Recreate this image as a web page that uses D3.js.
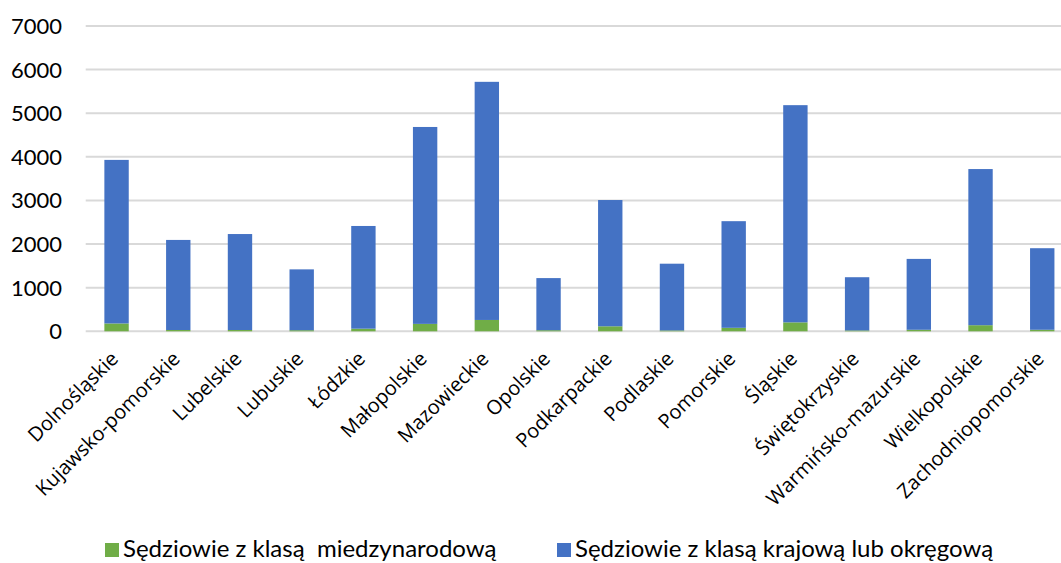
<!DOCTYPE html>
<html>
<head>
<meta charset="utf-8">
<script src="https://cdn.jsdelivr.net/npm/d3@7"></script>
<style>
  body { margin: 0; background: #fff; }
  text { fill: #000; }
</style>
</head>
<body>
<div id="chart"></div>
<script>
const categories = ["Dolnośląskie", "Kujawsko-pomorskie", "Lubelskie", "Lubuskie", "Łódzkie",
  "Małopolskie", "Mazowieckie", "Opolskie", "Podkarpackie", "Podlaskie", "Pomorskie",
  "Śląskie", "Świętokrzyskie", "Warmińsko-mazurskie", "Wielkopolskie", "Zachodniopomorskie"]

// sędziowie z klasą międzynarodową (green)
const international = [180, 30, 30, 25, 60, 170, 260, 25, 115, 20, 80, 205, 20, 35, 140, 35]
// sędziowie z klasą krajową lub okręgową (blue)
const national = [3750, 2065, 2200, 1395, 2355, 4515, 5460, 1195, 2895, 1530, 2445, 4980, 1220, 1625, 3580, 1870]

const yTicks = [0, 1000, 2000, 3000, 4000, 5000, 6000, 7000]
const seriesNames = ["Sędziowie z klasą  miedzynarodową", "Sędziowie z klasą krajową lub okręgową"]
const colors = ["#70AD47", "#4472C4"]

const width = 1061, height = 563

const rows = categories.map((c, i) => ({cat: c, intl: international[i], nat: national[i]}))
const stacked = d3.stack().keys(["intl", "nat"])(rows)

const x = d3.scaleBand()
  .domain(categories)
  .range([85.7, 1073.1])
  .paddingInner(0.605)
  .paddingOuter(0.3025)

const y = d3.scaleLinear()
  .domain([0, 7000])
  .range([331.3, 26])

const svg = d3.select("#chart").append("svg")
  .attr("width", width)
  .attr("height", height)

// gridlines
svg.append("g")
  .selectAll("line")
  .data(yTicks)
  .join("line")
  .attr("x1", 85.7)
  .attr("x2", 1073.1)
  .attr("y1", d => y(d))
  .attr("y2", d => y(d))
  .attr("stroke", "#d9d9d9")
  .attr("stroke-width", 2)

// y labels
svg.append("g")
  .selectAll("text")
  .data(yTicks)
  .join("text")
  .attr("x", 62)
  .attr("y", d => y(d))
  .attr("dy", "0.36em")
  .attr("text-anchor", "end")
  .style("font-family", "Lato")
  .style("font-size", "22px")
  .text(d => d)

// bars
svg.append("g")
  .selectAll("g")
  .data(stacked)
  .join("g")
  .attr("fill", (d, i) => colors[i])
  .selectAll("rect")
  .data(d => d)
  .join("rect")
  .attr("x", d => x(d.data.cat))
  .attr("width", x.bandwidth())
  .attr("y", d => y(d[1]))
  .attr("height", d => y(d[0]) - y(d[1]))

// x labels
svg.append("g")
  .selectAll("text")
  .data(categories)
  .join("text")
  .attr("transform", d => `translate(${x(d) + x.bandwidth() / 2 + 3},${360}) rotate(-45)`)
  .attr("text-anchor", "end")
  .style("font-family", "'Open Sans'")
  .style("font-size", "20px")
  .text(d => d)

// legend
const legendX = [105, 557]
const legend = svg.append("g")
  .selectAll("g")
  .data(seriesNames)
  .join("g")
  .attr("transform", (d, i) => `translate(${legendX[i]},543)`)

legend.append("rect")
  .attr("width", 14)
  .attr("height", 14)
  .attr("fill", (d, i) => colors[i])

legend.append("text")
  .attr("x", 18)
  .attr("y", 14)
  .style("font-family", "Lato")
  .style("font-size", "24px")
  .style("white-space", "pre")
  .text(d => d)
</script>
</body>
</html>
